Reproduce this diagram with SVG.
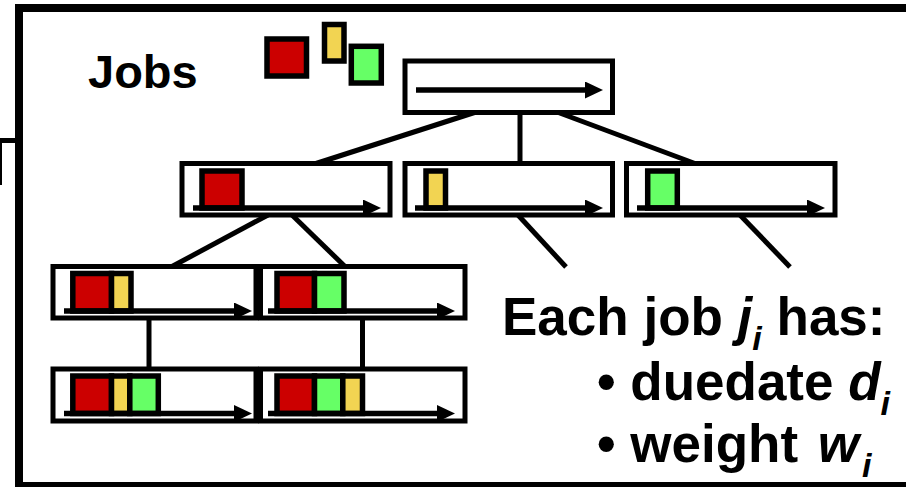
<svg xmlns="http://www.w3.org/2000/svg" width="906" height="487" viewBox="0 0 906 487">
<style>
.node{fill:#fff;stroke:#000;stroke-width:5}
.job{stroke:#000;stroke-width:5.5}
.r{fill:#cc0000}.y{fill:#f2d452}.g{fill:#66ff66}
.tl{stroke:#000;stroke-width:5.5;fill:none}
.edge{stroke:#000;stroke-width:5;fill:none}
.t{font-family:"Liberation Sans",Arial,sans-serif;font-weight:bold;fill:#000}
.sub{font-style:italic;font-size:34px}
</style>
<defs>
<marker id="ah" markerUnits="userSpaceOnUse" markerWidth="19" markerHeight="18" refX="9" refY="8.5" orient="auto">
<path d="M0,0 L18,8.5 L0,17 z" fill="#000"/>
</marker>
</defs>
<rect width="906" height="487" fill="#fff"/>
<path d="M0,140.5 H16" stroke="#000" stroke-width="5"/>
<path d="M1,141 V185" stroke="#000" stroke-width="2"/>
<rect x="19" y="8" width="900" height="478" fill="#fff" stroke="#000" stroke-width="8"/>

<g id="connectors">
<path class="edge" d="M476,112 L316,163.5"/>
<path class="edge" d="M520,112 V163.5"/>
<path class="edge" d="M557,112 L695,163.5"/>
<path class="edge" d="M268,215 L172,266.5"/>
<path class="edge" d="M292,215 L345,266.5"/>
<path class="edge" d="M518,215 L566,267"/>
<path class="edge" d="M740,215 L790,267"/>
<path class="edge" d="M149,318 V369"/>
<path class="edge" d="M362.5,318 V369"/>
</g>

<g id="jobs">
<text class="t" x="88" y="88" font-size="47">Jobs</text>
<rect class="job r" x="267" y="39" width="39.5" height="37"/>
<rect class="job y" x="324.5" y="24.5" width="19.5" height="36.5"/>
<rect class="job g" x="351.3" y="46.3" width="30" height="36.7"/>
</g>

<g id="root">
<rect class="node" x="405" y="61" width="207.5" height="51.5"/>
<path class="tl" d="M416,90 H594" marker-end="url(#ah)"/>
</g>

<g id="n1-red">
<rect class="node" x="182" y="163.5" width="208" height="51.5"/>
<rect class="job r" x="202" y="171" width="40" height="37"/>
<path class="tl" d="M193,208 H372" marker-end="url(#ah)"/>
</g>
<g id="n1-yellow">
<rect class="node" x="405" y="163.5" width="207.5" height="51.5"/>
<rect class="job y" x="426" y="171" width="19.5" height="37"/>
<path class="tl" d="M415,208 H594" marker-end="url(#ah)"/>
</g>
<g id="n1-green">
<rect class="node" x="626.5" y="163.5" width="208.5" height="51.5"/>
<rect class="job g" x="647.7" y="171" width="29.6" height="37"/>
<path class="tl" d="M637,208 H816" marker-end="url(#ah)"/>
</g>

<g id="n2-red-yellow">
<rect class="node" x="53" y="266.5" width="203" height="51.5"/>
<rect class="job r" x="72.8" y="273.5" width="38.7" height="37.5"/>
<rect class="job y" x="111.5" y="273.5" width="19.5" height="37.5"/>
<path class="tl" d="M64,311 H243" marker-end="url(#ah)"/>
</g>
<g id="n2-red-green">
<rect class="node" x="260.5" y="266.5" width="204.5" height="51.5"/>
<rect class="job r" x="277" y="273.5" width="37.5" height="37.5"/>
<rect class="job g" x="314.5" y="273.5" width="29.5" height="37.5"/>
<path class="tl" d="M268,311 H446" marker-end="url(#ah)"/>
</g>

<g id="n3-red-yellow-green">
<rect class="node" x="53" y="369" width="203" height="52"/>
<rect class="job r" x="72.8" y="376" width="38.7" height="37.5"/>
<rect class="job y" x="111.5" y="376" width="18.3" height="37.5"/>
<rect class="job g" x="129.8" y="376" width="28.5" height="37.5"/>
<path class="tl" d="M64,413.5 H243" marker-end="url(#ah)"/>
</g>
<g id="n3-red-green-yellow">
<rect class="node" x="260.5" y="369" width="204.5" height="52"/>
<rect class="job r" x="277" y="376" width="37.5" height="37.5"/>
<rect class="job g" x="314.5" y="376" width="28.3" height="37.5"/>
<rect class="job y" x="342.8" y="376" width="19.7" height="37.5"/>
<path class="tl" d="M268,413.5 H446" marker-end="url(#ah)"/>
</g>

<g id="description">
<text class="t" x="502" y="335" font-size="53">Each job <tspan font-style="italic">j</tspan><tspan class="sub" dy="15">i</tspan><tspan dy="-15"> has:</tspan></text>
<text class="t" x="597" y="400" font-size="53">• duedate <tspan font-style="italic">d</tspan><tspan class="sub" dy="15">i</tspan></text>
<text class="t" x="597" y="462" font-size="53">• weight <tspan font-style="italic" dx="5">w</tspan><tspan class="sub" dx="3" dy="15">i</tspan></text>
</g>
</svg>
